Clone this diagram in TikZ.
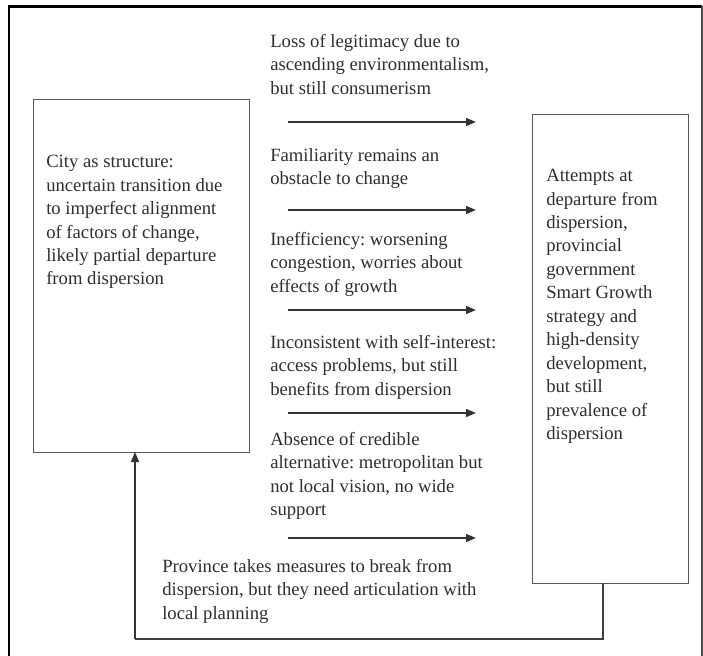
\documentclass[tikz,border=0pt]{standalone}
\usepackage{fontspec}
\setmainfont{Liberation Serif}
\usetikzlibrary{arrows.meta}
\definecolor{boxline}{gray}{0.35}
\definecolor{txt}{gray}{0.18}
\begin{document}
\begin{tikzpicture}[x=0.75pt,y=-0.75pt,
  boxshape/.style={draw=boxline,line width=0.9pt,inner sep=0,anchor=north west},
  label/.style={anchor=north west,inner sep=0,align=left,text=txt,
    font=\fontsize{14pt}{17.6pt}\selectfont\frenchspacing},
  flowarrow/.style={draw=black!80,line width=1.1pt,-{Triangle[length=7.5pt,width=6pt]}},
  loopline/.style={draw=black!75,line width=1pt}]
\useasboundingbox (0,0) rectangle (703,656);
% outer frame
\draw[black,line width=1.6pt] (9,670) -- (9,6.5) -- (702,6.5);
\draw[black!70,line width=0.8pt] (702,6.5) -- (702,670);
% boxes
\node[boxshape,minimum width=216*0.75pt,minimum height=353*0.75pt] (L) at (33,99) {};
\node[boxshape,minimum width=156*0.75pt,minimum height=469*0.75pt] (R) at (532,114) {};
% box texts
\node[label] (Ltext) at (46,155) {City as structure:\\uncertain transition due\\to imperfect alignment\\of factors of change,\\likely partial departure\\from dispersion};
\node[label] (Rtext) at (546,169) {Attempts at\\departure from\\dispersion,\\provincial\\government\\Smart Growth\\strategy and\\high-density\\development,\\but still\\prevalence of\\dispersion};
% factor texts
\node[label] (t1) at (270,34) {Loss of legitimacy due to\\ascending environmentalism,\\but still consumerism};
\node[label] (t2) at (270,148) {Familiarity remains an\\obstacle to change};
\node[label] (t3) at (270,232) {Inefficiency: worsening\\congestion, worries about\\effects of growth};
\node[label] (t4) at (270,335) {Inconsistent with self-interest:\\access problems, but still\\benefits from dispersion};
\node[label] (t5) at (270,432) {Absence of credible\\alternative: metropolitan but\\not local vision, no wide\\support};
\node[label] (t6) at (162,559) {Province takes measures to break from\\dispersion, but they need articulation with\\local planning};
% arrows
\foreach \i/\yy in {1/122,2/210,3/310,4/413,5/538}{
  \coordinate (a\i s) at (288,\yy);
  \coordinate (a\i e) at (476,\yy);
  \draw[flowarrow] (a\i s) -- (a\i e);
}
% feedback loop
\coordinate (fbR) at (603,583);
\coordinate (fbRb) at (603,639);
\coordinate (fbL) at (135,639);
\coordinate (fbLt) at (135,452);
\draw[loopline] (fbR) -- (fbRb) -- (fbL);
\draw[flowarrow,line width=1pt] (fbL) -- (fbLt);
\end{tikzpicture}
\end{document}
